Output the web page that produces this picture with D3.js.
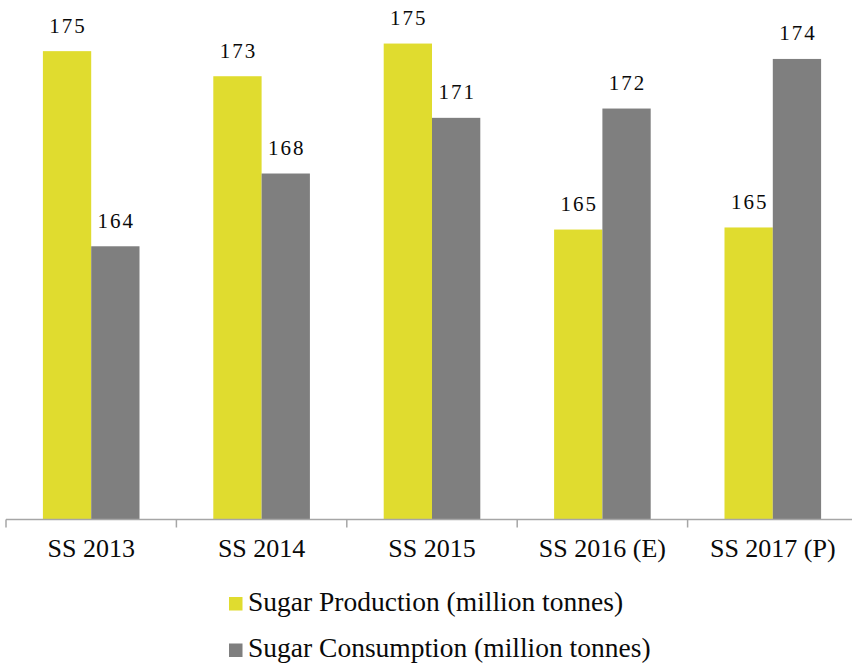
<!DOCTYPE html>
<html>
<head>
<meta charset="utf-8">
<script src="https://cdn.jsdelivr.net/npm/d3@7"></script>
<style>
  body { margin: 0; background: #fff; }
</style>
</head>
<body>
<svg id="chart" width="852" height="664"></svg>
<script>
// seasons on the x axis
const seasons = ['SS 2013', 'SS 2014', 'SS 2015', 'SS 2016 (E)', 'SS 2017 (P)']
const seriesNames = ['Sugar Production (million tonnes)', 'Sugar Consumption (million tonnes)']
// values (labels are rounded)
const production = [174.65, 173.33, 175.05, 165.26, 165.37]
const consumption = [164.38, 168.21, 171.14, 171.63, 174.24]
const colors = ['#e0dc2f', '#7f7f7f']

const FONT = 'Liberation Serif'
const INK = '#0a0a0a'

const svg = d3.select('#chart')
const baseY = 519.5

const x0 = d3.scaleBand()
             .domain(seasons)
             .range([6, 858])
             .padding(0)

const x1 = d3.scaleBand()
             .domain([0, 1])
             .range([0, x0.bandwidth()])
             .paddingInner(0)
             .paddingOuter(0.764)

const y = d3.scaleLinear()
            .domain([150, 176])
            .range([baseY, 25.5])

const rows = seasons.map((s, i) => ({ season: s, values: [production[i], consumption[i]] }))

const groups = svg.append('g')
  .selectAll('g')
  .data(rows)
  .join('g')
  .attr('transform', d => `translate(${x0(d.season)},0)`)

groups.selectAll('rect')
  .data(d => d.values.map((v, k) => ({ k, v })))
  .join('rect')
  .attr('x', d => x1(d.k))
  .attr('width', x1.bandwidth())
  .attr('y', d => y(d.v))
  .attr('height', d => baseY - y(d.v))
  .attr('fill', d => colors[d.k])

groups.selectAll('text.val')
  .data(d => d.values.map((v, k) => ({ k, v })))
  .join('text')
  .attr('class', 'val')
  .attr('x', d => x1(d.k) + x1.bandwidth() / 2 + 1)
  .attr('y', d => y(d.v) - 18.5)
  .attr('text-anchor', 'middle')
  .attr('font-family', FONT)
  .attr('font-size', 21)
  .attr('letter-spacing', '2px')
  .attr('fill', INK)
  .text(d => d3.format('.0f')(d.v))

// x axis: line plus ticks between categories
const axis = svg.append('g').attr('transform', `translate(0,${baseY})`)
axis.append('line')
  .attr('x1', 6).attr('x2', 852)
  .attr('stroke', '#a6a6a6').attr('stroke-width', 1.5)

const edges = seasons.map(s => x0(s)).concat([x0.range()[1]])
axis.selectAll('line.tk')
  .data(edges)
  .join('line')
  .attr('class', 'tk')
  .attr('x1', d => d).attr('x2', d => d)
  .attr('y1', 0).attr('y2', 8)
  .attr('stroke', '#a6a6a6').attr('stroke-width', 1.5)

svg.append('g')
  .selectAll('text')
  .data(seasons)
  .join('text')
  .attr('x', d => x0(d) + x0.bandwidth() / 2)
  .attr('y', 557)
  .attr('text-anchor', 'middle')
  .attr('font-family', FONT)
  .attr('font-size', 26)
  .attr('fill', INK)
  .text(d => d)

// legend
const legend = svg.append('g')
  .selectAll('g')
  .data(seriesNames)
  .join('g')
  .attr('transform', (d, i) => `translate(229,${597 + i * 46.5})`)

legend.append('rect')
  .attr('width', 13.5).attr('height', 13.5)
  .attr('fill', (d, i) => colors[i])

legend.append('text')
  .attr('x', 19)
  .attr('y', 13.5)
  .attr('font-family', FONT)
  .attr('font-size', 27.5)
  .attr('fill', INK)
  .text(d => d)
</script>
</body>
</html>
